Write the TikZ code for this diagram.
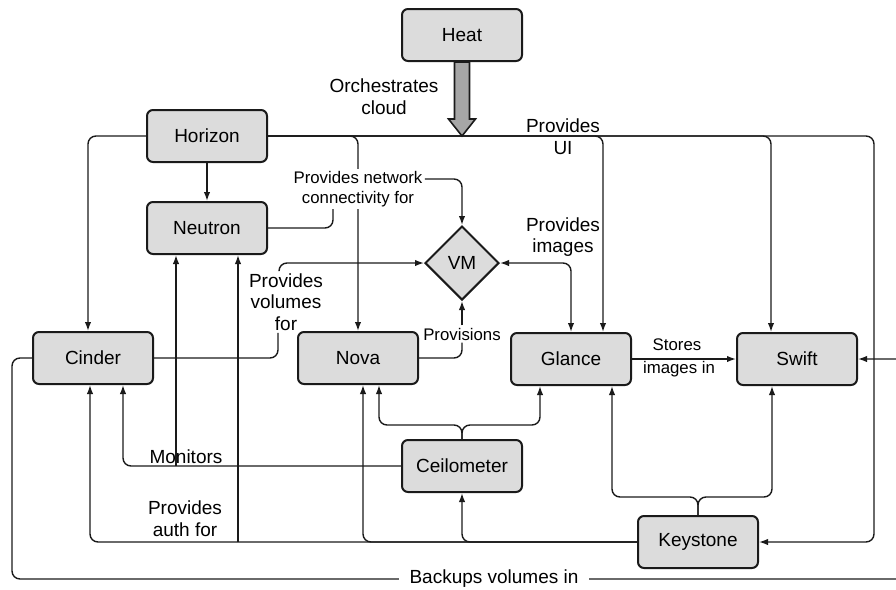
\documentclass[tikz,border=0pt]{standalone}
\usepackage{fontspec}
\setmainfont{Liberation Sans}
\usepackage{tikz}
\usetikzlibrary{calc,arrows.meta,positioning,shapes.geometric}
\definecolor{ink}{HTML}{1A1A1A}
\definecolor{boxfill}{HTML}{DCDCDC}
\definecolor{heatfill}{HTML}{A6A6A6}
\tikzset{
  box/.style={draw=ink, line width=1pt, rounded corners=3pt, fill=boxfill,
    minimum width=60pt, minimum height=26pt, font=\fontsize{9.5}{11}\selectfont},
  vmnode/.style={diamond, aspect=1, draw=ink, line width=1pt, fill=boxfill,
    minimum width=37pt, minimum height=37pt, inner sep=0pt,
    font=\fontsize{9.5}{11}\selectfont},
  wire/.style={draw=ink, line width=0.7pt, rounded corners=4pt},
  flow/.style={wire, -{Latex[length=4.5pt,width=3.2pt]}},
  twoway/.style={wire, {Latex[length=4.5pt,width=3.2pt]}-{Latex[length=4.5pt,width=3.2pt]}},
  heatarrow/.style={draw=ink, fill=heatfill, line width=0.8pt},
  lab/.style={font=\fontsize{9.5}{10.8}\selectfont, align=center, inner sep=1pt},
  note/.style={font=\fontsize{8.4}{10}\selectfont, align=center, inner sep=1pt}
}
\begin{document}
\begin{tikzpicture}[x=0.5pt,y=-0.5pt]
  \useasboundingbox (0,0) rectangle (896,590);

  % services
  \node[box] (heat) at (462,35) {Heat};
  \node[box] (horizon) at (207,136) {Horizon};
  \node[box] (neutron) at (207,228) {Neutron};
  \node[box] (cinder) at (93,358) {Cinder};
  \node[box] (nova) at (358,358) {Nova};
  \node[box] (glance) at (571,359) {Glance};
  \node[box] (swift) at (797,359) {Swift};
  \node[box] (ceil) at (462,466) {Ceilometer};
  \node[box] (keystone) at (698,542) {Keystone};
  \node[vmnode] (vm) at (462,263) {VM};

  % Horizon: provides UI
  \draw[flow] (horizon.west) -| ($(cinder.north)+(-5,0)$);
  \draw[flow] (horizon.east) -| (nova.north);
  \draw[flow] (horizon.east) -| ($(glance.north)+(32,0)$);
  \draw[flow] (horizon.east) -| ($(swift.north)+(-26,0)$);
  \draw[flow] (horizon.east) -| ($(keystone.east)+(115,0)$) -- (keystone.east);
  \draw[flow] (horizon) -- (neutron);
  \node[lab] (uilab) at (563,137) {Provides\\UI};

  % Heat on top of the bus
  \draw[heatarrow] ($(heat.south)+(-7.5,0)$) -- ++(0,57) -- ++(-6,0)
    -- ($(heat.south)+(0,74)$) -- ($(heat.south)+(13.5,57)$)
    -- ($(heat.south)+(7.5,57)$) -- ($(heat.south)+(7.5,0)$) -- cycle;
  \node[lab] (orchlab) at (384,97) {Orchestrates\\cloud};

  % what feeds the VM
  \node[note, fill=white] (netlab) at (358,189) {Provides network\\connectivity for};
  \draw[wire] (neutron.east) -| ($(netlab.south)+(-25,0)$);
  \draw[flow] ($(netlab.east)+(0,-10)$) -| (vm.north);

  \node[lab] (vollab) at (286,302) {Provides\\volumes\\for};
  \draw[wire] (cinder.east) -| ($(vollab.south)+(-8,0)$);
  \draw[flow] ($(vollab.north)+(-7,0)$) |- (vm.west);

  \node[note] (provlab) at (462,334) {Provisions};
  \draw[wire] (nova.east) -| (provlab.south);
  \draw[flow] (provlab.north) -- (vm.south);

  \draw[twoway] (vm.east) -| (glance.north);
  \node[lab] (imglab) at (563,237) {Provides\\images};

  \draw[flow] (glance) -- (swift);
  \node[note] (storelab) at (677,345) {Stores};
  \node[note] (inlab) at (679,369) {images in};

  % Ceilometer monitors
  \coordinate (nl) at ($(neutron.south)+(-31,0)$);
  \coordinate (nr) at ($(neutron.south)+(31,0)$);
  \draw[flow] (ceil.north) -- ++(0,-14) -| ($(nova.south)+(21,0)$);
  \draw[flow] (ceil.north) -- ++(0,-14) -| ($(glance.south)+(-31,0)$);
  \draw[flow] (ceil.west) -| ($(cinder.south)+(30,0)$);
  \draw[flow] (nl |- ceil.west) -- (nl);
  \node[lab] (monlab) at (186,457) {Monitors};

  % Keystone provides auth
  \draw[flow] (keystone.west) -| ($(cinder.south)+(-3,0)$);
  \draw[flow] (nr |- keystone.west) -- (nr);
  \draw[flow] (keystone.west) -| ($(nova.south)+(5,0)$);
  \draw[flow] (keystone.west) -| (ceil.south);
  \draw[flow] (keystone.north) -- ++(0,-18) -| ($(glance.south)+(41,0)$);
  \draw[flow] (keystone.north) -- ++(0,-18) -| ($(swift.south)+(-25,0)$);
  \node[lab] (authlab) at (185,519) {Provides\\auth for};

  % Cinder backups to Swift, out past the right edge
  \coordinate (bkl) at (12,579);
  \coordinate (bkr) at (915,579);
  \draw[flow] (cinder.west) -| (bkl) -- (bkr) |- (swift.east);
  \node[lab, fill=white, inner xsep=5.5pt] (bklab) at (494,579) {Backups volumes in};
\end{tikzpicture}
\end{document}
